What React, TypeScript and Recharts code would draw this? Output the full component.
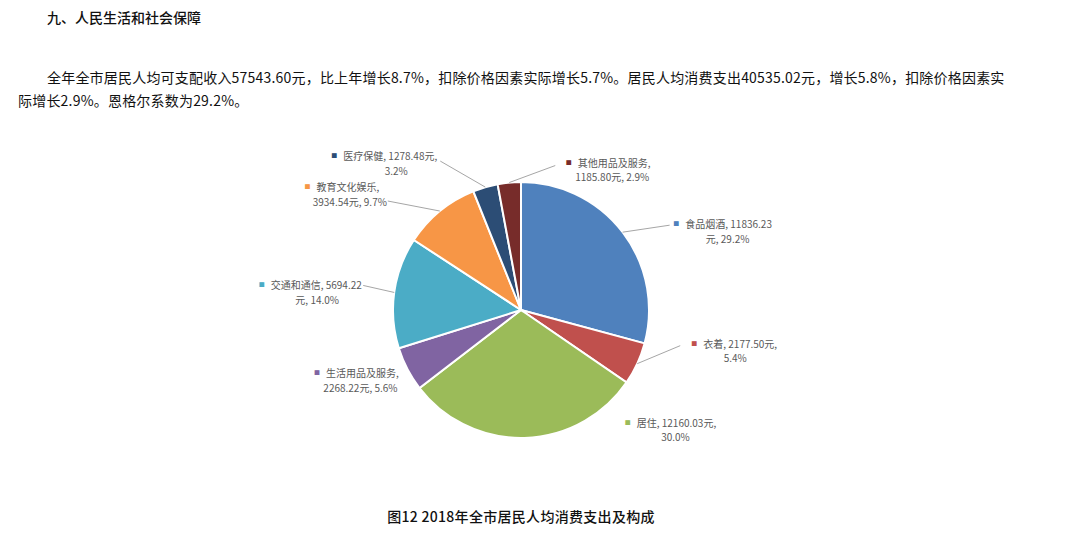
import React from 'react';
import { PieChart, Pie, Cell } from 'recharts';

const categories = ['食品烟酒', '衣着', '居住', '生活用品及服务', '交通和通信', '教育文化娱乐', '医疗保健', '其他用品及服务'];
const values = [11836.23, 2177.5, 12160.03, 2268.22, 5694.22, 3934.54, 1278.48, 1185.8];
const valueLabels = ['11836.23', '2177.50', '12160.03', '2268.22', '5694.22', '3934.54', '1278.48', '1185.80'];
const percentLabels = ['29.2%', '5.4%', '30.0%', '5.6%', '14.0%', '9.7%', '3.2%', '2.9%'];
const colors = ['#4F81BD', '#C0504D', '#9BBB59', '#8064A2', '#4BACC6', '#F79646', '#2C4D75', '#772C2A'];

const heading = '九、人民生活和社会保障';
const paraLine1 = '全年全市居民人均可支配收入57543.60元，比上年增长8.7%，扣除价格因素实际增长5.7%。居民人均消费支出40535.02元，增长5.8%，扣除价格因素实';
const paraLine2 = '际增长2.9%。恩格尔系数为29.2%。';
const caption = '图12 2018年全市居民人均消费支出及构成';

// label layout relative to the slice's outer edge point at mid angle
type Layout = { wrap: 'name' | 'value' | 'yuan'; dx: number; dy: number; shift2: number; leader?: [number, number] };
const labelLayout: Layout[] = [
  { wrap: 'value', dx: 100, dy: -9, shift2: 5, leader: [47, -7] },
  { wrap: 'yuan', dx: 97, dy: -21, shift2: 1, leader: [43, -18] },
  { wrap: 'yuan', dx: 146, dy: -16, shift2: 5 },
  { wrap: 'name', dx: -51, dy: 3, shift2: 4 },
  { wrap: 'value', dx: -84, dy: -8, shift2: 7, leader: [-31, -7] },
  { wrap: 'name', dx: -98, dy: -25, shift2: 8, leader: [-52, -10] },
  { wrap: 'yuan', dx: -101, dy: -32, shift2: 12, leader: [-45, -26] },
  { wrap: 'name', dx: 99, dy: -21, shift2: 4, leader: [46, -17] },
];

const data = categories.map((name, i) => ({ name, value: values[i] }));

const RAD = Math.PI / 180;
const fontCJK = '"Noto Sans CJK SC", "Noto Sans", sans-serif';

const renderLabel = (props: any) => {
  const { cx, cy, midAngle, outerRadius, index } = props;
  const ex = cx + outerRadius * Math.cos(-midAngle * RAD);
  const ey = cy + outerRadius * Math.sin(-midAngle * RAD);
  const L = labelLayout[index];
  const cat = categories[index];
  const val = valueLabels[index];
  const pct = percentLabels[index];
  let l1 = '';
  let l2 = '';
  if (L.wrap === 'name') {
    l1 = `${cat},`;
    l2 = `${val}元, ${pct}`;
  } else if (L.wrap === 'value') {
    l1 = `${cat}, ${val}`;
    l2 = `元, ${pct}`;
  } else {
    l1 = `${cat}, ${val}元,`;
    l2 = pct;
  }
  const tx = ex + L.dx;
  const ty = ey + L.dy;
  return (
    <g key={`lbl-${index}`}>
      {L.leader && (
        <line x1={ex} y1={ey} x2={ex + L.leader[0]} y2={ey + L.leader[1]} stroke="#A6A6A6" strokeWidth={1} />
      )}
      <text x={tx} y={ty} textAnchor="middle" dominantBaseline="central" fontFamily={fontCJK} fontSize={10} fill="#595959">
        <tspan fill={colors[index]} fontSize={6}>■</tspan>
        <tspan dx={6}>{l1}</tspan>
      </text>
      <text x={tx + L.shift2} y={ty + 15} textAnchor="middle" dominantBaseline="central" fontFamily={fontCJK} fontSize={10} fill="#595959">
        {l2}
      </text>
    </g>
  );
};

export default function App() {
  return (
    <div style={{ position: 'absolute', left: 0, top: 0, width: 1080, height: 541, background: '#fff', fontFamily: fontCJK, color: '#111' }}>
      <div style={{ position: 'absolute', left: 0, top: 0 }}>
        <PieChart width={1080} height={541} margin={{ top: 0, right: 0, bottom: 0, left: 0 }}>
          <Pie
            data={data}
            dataKey="value"
            nameKey="name"
            cx={521}
            cy={310}
            outerRadius={128}
            startAngle={90}
            endAngle={-270}
            stroke="#fff"
            strokeWidth={2}
            label={renderLabel}
            labelLine={false}
            isAnimationActive={false}
          >
            {data.map((d, i) => (
              <Cell key={d.name} fill={colors[i]} />
            ))}
          </Pie>
        </PieChart>
      </div>
      <div style={{ position: 'absolute', left: 47, top: 7, fontSize: 14, lineHeight: '20px', fontWeight: 500, whiteSpace: 'nowrap' }}>{heading}</div>
      <div style={{ position: 'absolute', left: 47, top: 67, fontSize: 14, lineHeight: '20px', letterSpacing: 0.2, whiteSpace: 'nowrap' }}>{paraLine1}</div>
      <div style={{ position: 'absolute', left: 18, top: 90, fontSize: 14, lineHeight: '20px', letterSpacing: 0.2, whiteSpace: 'nowrap' }}>{paraLine2}</div>
      <div style={{ position: 'absolute', left: 0, top: 506, width: 1042, textAlign: 'center', fontSize: 14, lineHeight: '20px', fontWeight: 500, letterSpacing: 0.3, whiteSpace: 'nowrap' }}>{caption}</div>
    </div>
  );
}
